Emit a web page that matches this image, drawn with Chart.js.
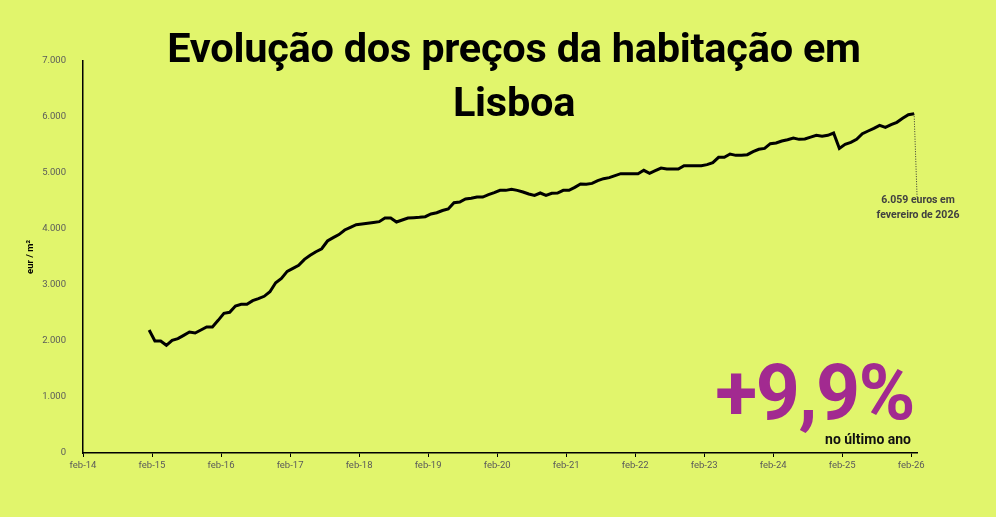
<!DOCTYPE html>
<html lang="pt">
<head>
<meta charset="utf-8">
<title>Evolução dos preços da habitação em Lisboa</title>
<script src="https://cdn.jsdelivr.net/npm/chart.js@4"></script>
<style>
  html, body { margin: 0; padding: 0; background: #e1f56c; }
  #wrap { position: relative; width: 996px; height: 517px; overflow: hidden; }
  #title {
    position: absolute; left: 0; width: 1028px; top: 21px;
    text-align: center; font-family: Roboto, sans-serif; font-weight: 700;
    font-size: 41.5px; line-height: 54px; color: #000; letter-spacing: -0.25px;
  }
  #big {
    position: absolute; right: 82px; top: 348px;
    font-family: Roboto, sans-serif; font-weight: 700; font-size: 77px;
    color: #a22a90; letter-spacing: -1.5px;
  }
  #sub {
    position: absolute; right: 85px; top: 431px;
    font-family: Roboto, sans-serif; font-weight: 700; font-size: 14px; color: #111;
  }
  #note {
    position: absolute; left: 858px; width: 120px; top: 192px;
    text-align: center; font-family: Roboto, sans-serif; font-weight: 700;
    font-size: 10.5px; line-height: 15px; color: #404040;
  }
</style>
</head>
<body>
<div id="wrap">
  <canvas id="myChart"></canvas>
  <div id="title">Evolução dos preços da habitação em<br>Lisboa</div>
  <div id="big">+9,9%</div>
  <div id="sub">no último ano</div>
  <div id="note">6.059 euros em<br>fevereiro de 2026</div>
</div>
<script>
// x axis: months counted from feb-14, one tick every 12 months
const tickLabels = ['feb-14', 'feb-15', 'feb-16', 'feb-17', 'feb-18', 'feb-19', 'feb-20',
  'feb-21', 'feb-22', 'feb-23', 'feb-24', 'feb-25', 'feb-26'];
const yTicks = [0, 1000, 2000, 3000, 4000, 5000, 6000, 7000];

// monthly price (eur/m2), first value sits half a month before feb-15
const firstMonth = 11.5;
const prices = [
  2196, 2000, 2000, 1923, 2012, 2042, 2101, 2161, 2143, 2196, 2250, 2250,
  2369, 2494, 2512, 2625, 2655, 2655, 2720, 2755, 2798, 2880, 3041, 3119,
  3244, 3298, 3351, 3458, 3530, 3595, 3648, 3786, 3845, 3900, 3982, 4030,
  4077, 4089, 4101, 4115, 4131, 4196, 4196, 4125, 4161, 4196, 4202, 4208,
  4220, 4268, 4290, 4330, 4357, 4470, 4482, 4536, 4548, 4571, 4571, 4613,
  4649, 4690, 4690, 4708, 4690, 4661, 4625, 4601, 4643, 4601, 4637, 4643,
  4690, 4690, 4744, 4804, 4798, 4815, 4863, 4899, 4917, 4952, 4988, 4988,
  4988, 4988, 5048, 4994, 5042, 5089, 5071, 5071, 5071, 5131, 5131, 5131,
  5131, 5149, 5185, 5280, 5280, 5339, 5315, 5315, 5327, 5381, 5423, 5440,
  5524, 5536, 5571, 5595, 5625, 5601, 5607, 5640, 5673, 5655, 5673, 5714,
  5440, 5512, 5548, 5601, 5702, 5750, 5798, 5851, 5815, 5863, 5905, 5976,
  6041, 6059
];
const noteValue = 4550; // where the dotted leader line ends

const points = prices.map((v, i) => ({ x: firstMonth + i, y: v }));

// dotted leader from the last point down to the note
const leader = {
  id: 'leader',
  afterDatasetsDraw(chart) {
    const meta = chart.getDatasetMeta(0);
    const last = meta.data[meta.data.length - 1];
    const ctx = chart.ctx;
    ctx.save();
    ctx.strokeStyle = '#333';
    ctx.lineWidth = 1;
    ctx.setLineDash([1, 1.5]);
    ctx.beginPath();
    ctx.moveTo(last.x, last.y);
    ctx.lineTo(last.x + 3, chart.scales.y.getPixelForValue(noteValue));
    ctx.stroke();
    ctx.restore();
  }
};

const ctx = document.getElementById('myChart');
const tickFont = { family: 'Roboto', size: 9.5 };

new Chart(ctx, {
  type: 'line',
  data: {
    datasets: [{
      data: points,
      borderColor: '#000',
      borderWidth: 3,
      pointRadius: 0,
      tension: 0
    }]
  },
  options: {
    responsive: true,
    maintainAspectRatio: false,
    animation: false,
    layout: { padding: { top: 61, right: 79, left: 0, bottom: 0 } },
    plugins: { legend: { display: false }, tooltip: { enabled: false } },
    scales: {
      x: {
        type: 'linear',
        min: 0,
        max: 145,
        afterBuildTicks: s => { s.ticks = tickLabels.map((t, i) => ({ value: i * 12 })); },
        afterFit: s => { s.height = 64; },
        ticks: {
          autoSkip: false, maxRotation: 0, padding: 3,
          color: '#5a5a5a', font: tickFont,
          callback: (v) => tickLabels[Math.round(v / 12)]
        },
        grid: { display: true, drawOnChartArea: false, drawTicks: true, tickLength: 4, color: '#000', lineWidth: 1 },
        border: { display: true, color: '#000', width: 1.5 }
      },
      y: {
        min: 0,
        max: 7000,
        afterBuildTicks: s => { s.ticks = yTicks.map(v => ({ value: v })); },
        afterFit: s => { s.width = 83; },
        ticks: {
          padding: 9, color: '#5a5a5a', font: tickFont,
          callback: v => v.toLocaleString('de-DE')
        },
        grid: { display: false },
        border: { display: true, color: '#000', width: 1.5 },
        title: {
          display: true, text: 'eur / m²', color: '#000',
          font: { family: 'Roboto', size: 9.5, weight: 'bold' },
          padding: { top: 25, bottom: 0 }
        }
      }
    }
  },
  plugins: [leader]
});
</script>
</body>
</html>
